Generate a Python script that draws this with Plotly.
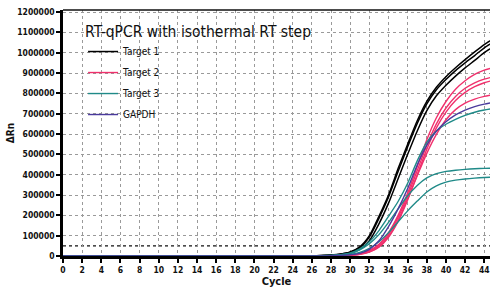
import plotly.graph_objects as go

cycles = list(range(0, 46))

def pad(vals, start):
    # leading baseline zeros up to the first listed cycle
    return [0] * start + vals

target1_a = pad([1000, 2500, 5000, 10000, 20000, 45000, 100000, 195000, 300000, 430000, 550000, 665000,
                 760000, 830000, 882000, 926000, 966000, 1004000, 1040000, 1070000], 26)
target1_b = pad([700, 1700, 3500, 7500, 15000, 33000, 75000, 158000, 260000, 380000, 500000, 615000,
                 715000, 788000, 840000, 885000, 925000, 962000, 1000000, 1030000], 26)
target1_c = pad([900, 2300, 4500, 9200, 18500, 41000, 93000, 185000, 290000, 416000, 537000, 652000,
                 748000, 818000, 868000, 912000, 950000, 986000, 1024000, 1053000], 26)

target2_a = pad([1500, 3000, 6000, 12000, 28000, 58000, 115000, 200000, 310000, 440000, 572000, 680000,
                 760000, 820000, 862000, 893000, 914000, 928000], 28)
target2_b = pad([1200, 2500, 5000, 10000, 25000, 52000, 105000, 190000, 295000, 420000, 545000, 650000,
                 728000, 785000, 825000, 852000, 870000, 882000], 28)
target2_c = pad([1000, 2000, 4000, 8000, 20000, 46000, 96000, 176000, 282000, 395000, 505000, 598000,
                 670000, 720000, 752000, 772000, 785000, 794000], 28)
target2_d = pad([1000, 2200, 4500, 8000, 19000, 43000, 92000, 170000, 276000, 400000, 525000, 630000,
                 708000, 765000, 805000, 833000, 852000, 865000], 28)

target3_a = pad([1500, 3000, 7000, 15000, 35000, 70000, 125000, 195000, 268000, 358000, 468000, 560000,
                 615000, 648000, 672000, 692000, 707000, 718000, 726000], 27)
target3_b = pad([1500, 3000, 6000, 12000, 30000, 60000, 105000, 165000, 232000, 296000, 347000, 384000,
                 405000, 416000, 422000, 426000, 429000, 431000, 432000], 27)
target3_c = pad([1000, 2000, 4000, 8000, 18000, 38000, 70000, 115000, 168000, 222000, 270000, 315000,
                 345000, 363000, 373000, 379000, 383000, 386000, 388000], 27)

gapdh = pad([1500, 3000, 6000, 13000, 33000, 75000, 145000, 232000, 332000, 448000, 545000, 614000,
             660000, 694000, 718000, 735000, 747000, 756000], 28)

threshold = 50000

x_ticks = list(range(0, 45, 2))
x_tick_labels = [str(v) for v in x_ticks]
y_ticks = list(range(0, 1200001, 100000))
y_tick_labels = [str(v) for v in y_ticks]

series = [
    ("Target 1", "#000000", 1.5, [target1_a, target1_b, target1_c]),
    ("Target 2", "#f0306c", 1.4, [target2_a, target2_b, target2_d, target2_c]),
    ("Target 3", "#1f8a88", 1.4, [target3_a, target3_b, target3_c]),
    ("GAPDH", "#4a3a9c", 1.4, [gapdh]),
]

FONT = "DejaVu Sans Condensed, DejaVu Sans, sans-serif"

fig = go.Figure()
for name, color, width, reps in series:
    for i, ys in enumerate(reps):
        fig.add_trace(go.Scatter(
            x=cycles, y=ys, mode="lines", name=name, legendgroup=name,
            showlegend=(i == 0), line=dict(color=color, width=width, shape="spline", smoothing=0.6),
        ))

fig.add_hline(y=threshold, line=dict(color="#111111", width=1.4, dash="dot"), layer="below")
fig.add_shape(type="line", xref="paper", yref="paper", x0=0, x1=1, y0=1, y1=1,
              line=dict(color="#111111", width=1.3))

axis_common = dict(
    showgrid=True, gridcolor="#9a9a9a", gridwidth=1, griddash="dot",
    showline=True, linecolor="#000000", linewidth=2.5,
    ticks="outside", ticklen=4, tickwidth=2, tickcolor="#000000",
    zeroline=False, automargin=False,
    tickfont=dict(family=FONT, size=8.5, color="#111111", weight="bold"),
)

fig.update_xaxes(range=[0, 44.6], tickmode="array", tickvals=x_ticks, ticktext=x_tick_labels,
                 title=dict(text="<b>Cycle</b>", font=dict(family=FONT, size=11, color="#111111"), standoff=4),
                 **axis_common)
fig.update_yaxes(range=[0, 1210000], tickmode="array", tickvals=y_ticks, ticktext=y_tick_labels,
                 title=dict(text="<b>ΔRn</b>", font=dict(family=FONT, size=10, color="#111111"), standoff=1),
                 **axis_common)

fig.update_layout(
    width=490, height=290,
    margin=dict(l=63, r=0, t=10, b=34, autoexpand=False),
    plot_bgcolor="white", paper_bgcolor="white",
    legend=dict(
        x=0.047, y=0.972, xanchor="left", yanchor="top",
        bgcolor="rgba(255,255,255,0)",
        title=dict(text="RT-qPCR with isothermal RT step",
                   font=dict(family=FONT, size=15.5, color="#111111")),
        font=dict(family=FONT, size=10, color="#111111"),
        itemwidth=30, tracegroupgap=2,
    ),
)

fig.write_html("out.html", config={"displayModeBar": False},
               post_script="document.body.style.margin='0';document.body.style.padding='0';")
